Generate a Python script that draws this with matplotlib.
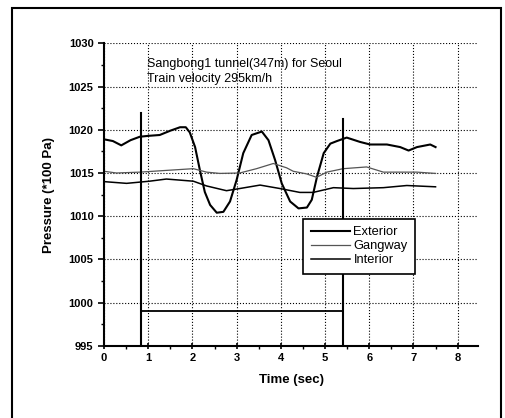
import matplotlib
matplotlib.use("Agg")
import matplotlib.pyplot as plt
from matplotlib.patches import Rectangle
from matplotlib.ticker import MultipleLocator

plt.rcParams['font.family'] = ['Liberation Sans', 'DejaVu Sans']

# Data
ext_t = [0.0, 0.2, 0.39, 0.6, 0.81, 1.0, 1.26, 1.5, 1.72, 1.85, 1.94, 2.06, 2.17, 2.28, 2.40, 2.55, 2.70, 2.85, 3.0, 3.15, 3.34, 3.57, 3.72, 3.87, 4.02, 4.21, 4.40, 4.59, 4.70, 4.82, 4.97, 5.12, 5.27, 5.49, 5.79, 6.02, 6.4, 6.7, 6.89, 7.08, 7.38, 7.5]
ext_p = [1018.9, 1018.7, 1018.2, 1018.8, 1019.2, 1019.3, 1019.4, 1019.9, 1020.3, 1020.3, 1019.7, 1018.0, 1015.3, 1012.8, 1011.3, 1010.4, 1010.5, 1011.7, 1014.2, 1017.3, 1019.4, 1019.8, 1018.8, 1016.5, 1013.8, 1011.7, 1010.9, 1011.0, 1011.9, 1014.6, 1017.3, 1018.4, 1018.7, 1019.1, 1018.6, 1018.3, 1018.3, 1018.0, 1017.6, 1018.0, 1018.3, 1018.0]

gang_t = [0.0, 0.28, 0.81, 1.41, 2.02, 2.32, 2.62, 3.07, 3.45, 3.83, 4.13, 4.28, 4.58, 4.81, 5.04, 5.41, 5.94, 6.32, 6.7, 7.08, 7.5]
gang_p = [1015.2, 1015.0, 1015.1, 1015.3, 1015.5, 1015.1, 1014.95, 1015.0, 1015.5, 1016.1, 1015.6, 1015.2, 1014.9, 1014.5, 1015.1, 1015.5, 1015.7, 1015.1, 1015.1, 1015.1, 1014.95]

int_t = [0.0, 0.51, 1.03, 1.41, 2.02, 2.32, 2.77, 3.07, 3.53, 3.98, 4.43, 4.73, 5.19, 5.64, 6.32, 6.85, 7.5]
int_p = [1014.0, 1013.8, 1014.05, 1014.3, 1014.05, 1013.5, 1012.95, 1013.2, 1013.6, 1013.2, 1012.75, 1012.75, 1013.3, 1013.2, 1013.3, 1013.55, 1013.4]

event_t = [0.84, 5.40]
event_top = [1021.9, 1021.3]
span_p = 999.0

fig = plt.figure(figsize=(5.05, 4.18), dpi=100)
fig.patches.append(Rectangle((0.024, -0.02), 0.968, 1.001, transform=fig.transFigure,
                             fill=False, edgecolor='black', linewidth=1.5))
ax = fig.add_axes([0.206, 0.173, 0.7405, 0.723])

ax.plot(ext_t, ext_p, color='black', lw=1.5, label='Exterior')
ax.plot(gang_t, gang_p, color='#555555', lw=0.9, label='Gangway')
ax.plot(int_t, int_p, color='black', lw=1.1, label='Interior')

for t, top in zip(event_t, event_top):
    ax.plot([t, t], [995, top], color='black', lw=1.5)
ax.plot(event_t, [span_p, span_p], color='black', lw=1.3)

ax.set_xlim(0, 8.46)
ax.set_ylim(995, 1030)
ax.xaxis.set_major_locator(MultipleLocator(1))
ax.xaxis.set_minor_locator(MultipleLocator(0.5))
ax.yaxis.set_major_locator(MultipleLocator(5))
ax.yaxis.set_minor_locator(MultipleLocator(2.5))
ax.grid(True, which='major', linestyle=':', color='black', lw=0.8)
ax.spines['top'].set_visible(False)
ax.spines['right'].set_visible(False)
ax.spines['left'].set_linewidth(1.5)
ax.spines['bottom'].set_linewidth(1.5)
ax.tick_params(axis='both', which='major', length=4, width=1.2, labelsize=8)
ax.tick_params(axis='both', which='minor', length=2, width=1.0)
ax.tick_params(axis='x', direction='inout')
for lab in ax.get_xticklabels() + ax.get_yticklabels():
    lab.set_fontweight('bold')

ax.set_xlabel('Time (sec)', fontsize=9.5, fontweight='bold', labelpad=8)
ax.set_ylabel('Pressure (*100 Pa)', fontsize=9.5, fontweight='bold', labelpad=10)

ax.text(0.98, 1028.3, 'Sangbong1 tunnel(347m) for Seoul\nTrain velocity 295km/h',
        fontsize=9, va='top', ha='left', linespacing=1.3)

leg = ax.legend(loc='upper left', bbox_to_anchor=(0.515, 0.442), fontsize=9.3,
                frameon=True, fancybox=False, edgecolor='black', framealpha=1,
                handlelength=3.0, borderpad=0.6, labelspacing=0.15, handletextpad=0.3)
leg.get_frame().set_linewidth(1.2)

fig.savefig('out.png', dpi=100)
